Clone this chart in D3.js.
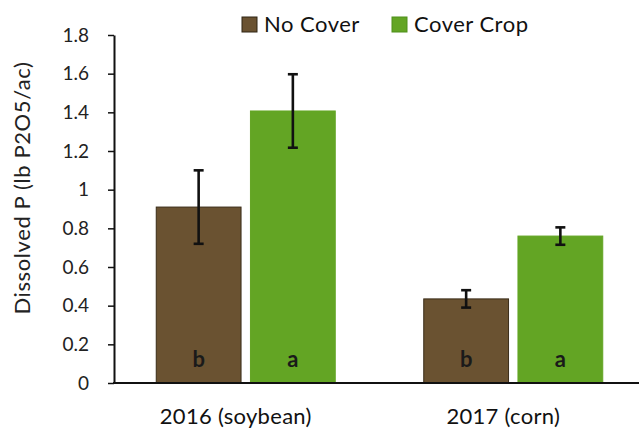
<!DOCTYPE html>
<html><head><meta charset="utf-8">
<script src="https://cdn.jsdelivr.net/npm/d3@7"></script>
<style>body{margin:0;background:#fff}svg{display:block}text{font-family:Lato,"Open Sans",sans-serif}</style>
</head><body>
<svg id="c" width="639" height="429"></svg>
<script>
const categories = ["2016 (soybean)", "2017 (corn)"];
const seriesNames = ["No Cover", "Cover Crop"];
const noCover = [0.91, 0.435];
const coverCrop = [1.407, 0.76];
const noCoverErr = [0.19, 0.045];
const coverCropErr = [0.19, 0.045];
const sigLetters = [["b","a"],["b","a"]];
const yTicks = [0,0.2,0.4,0.6,0.8,1,1.2,1.4,1.6,1.8];
const yLabel = "Dissolved P (lb P2O5/ac)";

const colors = ["#6a5231", "#63a524"];
const strokes = ["#3a2c18", "#63a524"];
const svg = d3.select("#c");
const y = d3.scaleLinear().domain([0,1.8]).range([383,35]);
const x0 = d3.scaleBand().domain(categories).range([112,647]).paddingInner(0).paddingOuter(0);
const bw = x0.bandwidth();
const x1 = d3.scaleBand().domain(seriesNames).range([(bw-179)/2,(bw+179)/2]).paddingInner(0.1).paddingOuter(0);

const series = [noCover, coverCrop];
const errs = [noCoverErr, coverCropErr];
const data = [];
categories.forEach((c,i)=>seriesNames.forEach((s,j)=>data.push({c,s,j,v:series[j][i],e:errs[j][i],l:sigLetters[i][j]})));
const cx = d=>x0(d.c)+x1(d.s)+x1.bandwidth()/2;

const g = svg.append("g");
g.selectAll("rect.bar").data(data).enter().append("rect")
 .attr("x",d=>x0(d.c)+x1(d.s)).attr("width",x1.bandwidth())
 .attr("y",d=>y(d.v)).attr("height",d=>y(0)-y(d.v))
 .attr("fill",d=>colors[d.j]).attr("stroke",d=>strokes[d.j]).attr("stroke-width",1);

const eb = g.selectAll("g.err").data(data).enter().append("g").attr("stroke","#111").attr("stroke-width",2.6);
eb.append("line").attr("x1",cx).attr("x2",cx)
 .attr("y1",d=>y(d.v+d.e)).attr("y2",d=>y(d.v-d.e));
[1,-1].forEach(sg=>eb.append("line").attr("x1",d=>cx(d)-5).attr("x2",d=>cx(d)+5)
 .attr("y1",d=>y(d.v+sg*d.e)).attr("y2",d=>y(d.v+sg*d.e)));

g.selectAll("text.let").data(data).enter().append("text")
 .attr("x",cx).attr("y",y(0)-16)
 .attr("text-anchor","middle").attr("font-size",22).attr("font-weight","bold").attr("fill","#1a1a1a").text(d=>d.l);

// y axis
const ya = svg.append("g").attr("transform","translate(114,0)")
 .call(d3.axisLeft(y).tickValues(yTicks).tickFormat(d=>d3.format("")(d)).tickSize(6).tickSizeOuter(0));
ya.select(".domain").attr("stroke","#111").attr("stroke-width",2);
ya.selectAll(".tick line").attr("stroke","#111").attr("stroke-width",1.5);
ya.selectAll(".tick text").attr("font-size",19).attr("fill","#222").attr("x",-25).attr("font-family","Lato, sans-serif");
// x axis line
svg.append("line").attr("x1",113).attr("x2",639).attr("y1",y(0)).attr("y2",y(0)).attr("stroke","#111").attr("stroke-width",2.2);
// category labels
svg.selectAll("text.cat").data(categories).enter().append("text")
 .attr("x",d=>x0(d)+x0.bandwidth()/2-10).attr("y",424).attr("text-anchor","middle")
 .attr("font-size",22).attr("letter-spacing",0.3).attr("fill","#111").text(d=>d);
// y label
svg.append("text").attr("transform","translate(30,188) rotate(-90)").attr("text-anchor","middle")
 .attr("font-size",22).attr("letter-spacing",0.6).attr("fill","#222").text(yLabel);
// legend
const legX = [242, 392];
const lg = svg.selectAll("g.leg").data(seriesNames).enter().append("g").attr("transform",(d,i)=>`translate(${legX[i]},17)`);
lg.append("rect").attr("width",15).attr("height",15).attr("fill",(d,i)=>colors[i]).attr("stroke",(d,i)=>i?"#4f8f1a":"#2f2414");
lg.append("text").attr("x",22).attr("y",15).attr("font-size",22).attr("letter-spacing",0.5).attr("fill","#111").text(d=>d);
</script>
</body></html>
